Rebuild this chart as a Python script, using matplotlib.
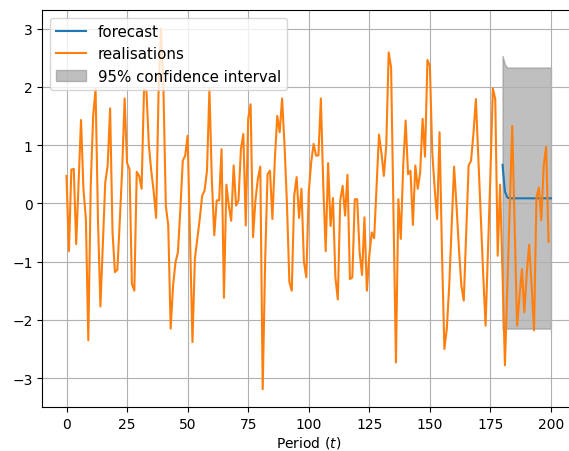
import numpy as np
import matplotlib
matplotlib.use("Agg")
import matplotlib.pyplot as plt

# realised values, periods 0..199
realisations = [
    0.47, -0.82, 0.58, 0.59, -0.70, 0.35, 1.43, 0.24, -0.27, -2.35,
    0.30, 1.50, 1.96, -0.30, -1.77, -0.70, 0.36, 0.65, 1.63, -0.50,
    -1.18, -1.14, -0.30, 0.60, 1.80, 0.69, 0.59, -1.38, -1.50, 0.54,
    0.47, 0.25, 1.96, 1.93, 1.00, 0.55, 0.20, -0.25, 1.90, 3.00,
    2.00, -0.04, -0.38, -2.15, -1.41, -1.01, -0.84, -0.10, 0.73, 0.82,
    1.16, -0.60, -2.38, -0.95, -0.61, -0.27, 0.13, 0.22, 0.56, 1.96,
    0.40, -0.55, 0.05, 0.05, 0.93, -1.62, 0.32, -0.04, -0.30, 0.65,
    -0.04, 0.05, 0.93, 1.19, -0.38, 1.45, 1.70, -0.58, 0.05, 0.42,
    0.63, -3.19, -1.00, 0.50, 0.56, -0.27, 0.75, 1.50, 1.22, 1.80,
    1.00, 0.00, -1.35, -1.50, 0.13, 0.45, -0.25, 0.25, -1.00, -1.27,
    0.20, 0.70, 1.02, 0.82, 0.82, 1.80, 0.30, -0.82, 0.69, -0.39,
    0.09, -1.27, -1.65, 0.05, 0.30, -0.21, 0.49, -1.30, -1.27, 0.07,
    0.07, -0.84, -1.23, -0.24, -1.50, -0.90, -0.50, -0.60, 0.30, 1.18,
    0.87, 0.47, 0.99, 2.59, 2.33, -0.20, -2.73, 0.07, -0.61, 0.65,
    1.42, 0.50, 0.56, -0.37, 0.65, 0.25, 0.53, 1.45, 0.80, 2.46,
    2.36, 0.87, 0.25, -0.27, 1.22, -0.84, -2.50, -2.15, -1.41, -0.38,
    0.63, -0.04, -0.78, -1.41, -1.67, -0.50, 0.65, 0.73, 1.20, 1.79,
    0.80, -0.20, -1.20, -2.10, -0.80, 0.50, 1.97, 1.79, -0.90, 0.32,
    -1.20, -2.78, -1.40, 0.00, 1.33, -0.40, -2.10, -1.60, -1.13, -1.87,
    -1.20, -0.71, -1.40, -2.18, 0.10, 0.27, -0.29, 0.65, 0.97, -0.66,
]
periods = np.arange(len(realisations))

# forecast from period 180 onwards, with its 95% band
fc_start = 180
forecast = [0.66, 0.20, 0.10] + [0.086] * 18
ci_upper = [2.53, 2.38, 2.33] + [2.33] * 18
ci_lower = [-2.16, -2.15, -2.15] + [-2.15] * 18
fc_periods = np.arange(fc_start, fc_start + len(forecast))

fig = plt.figure(figsize=(5.69, 4.52), dpi=100)
# axes run a little past the right edge of the picture, as in the original
ax = fig.add_axes([0.0743, 0.0967, 0.9366, 0.878])

ax.plot(fc_periods, forecast, color="C0", label="forecast")
ax.plot(periods, realisations, color="C1", label="realisations")
ax.fill_between(fc_periods, ci_lower, ci_upper, color="gray", alpha=0.5,
                label="95% confidence interval")

ax.set_xlim(-10, 210)
ax.set_ylim(-3.5, 3.31)
ax.set_xticks([0, 25, 50, 75, 100, 125, 150, 175, 200])
ax.set_yticks([-3, -2, -1, 0, 1, 2, 3])
ax.grid(True)
ax.set_xlabel("Period ($t$)", labelpad=2.5)
ax.legend(loc="upper left", fontsize=10.8)

fig.savefig("out.png", dpi=100)
